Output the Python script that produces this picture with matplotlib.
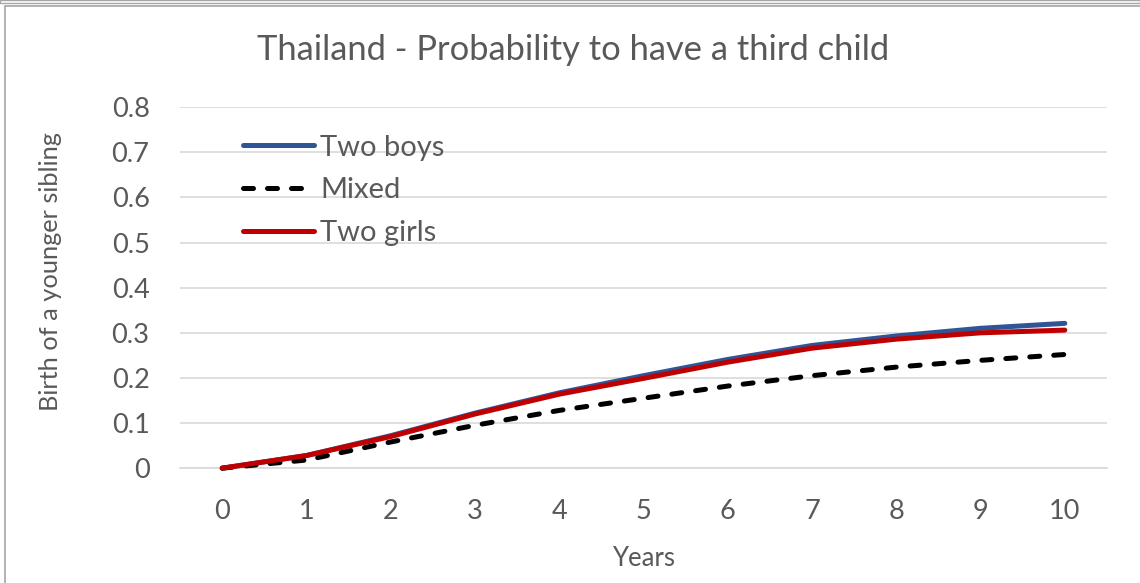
import matplotlib
matplotlib.use('Agg')
from matplotlib import pyplot as plt
from matplotlib.patches import Rectangle

# Вероятность рождения третьего ребёнка по годам
years = list(range(11))
two_boys = [0, 0.028, 0.072, 0.122, 0.167, 0.205, 0.241, 0.272, 0.293, 0.310, 0.321]
mixed = [0, 0.018, 0.058, 0.095, 0.128, 0.155, 0.182, 0.205, 0.224, 0.239, 0.252]
two_girls = [0, 0.028, 0.070, 0.120, 0.164, 0.199, 0.235, 0.266, 0.286, 0.300, 0.306]
y_ticks = [0, 0.1, 0.2, 0.3, 0.4, 0.5, 0.6, 0.7, 0.8]
y_tick_labels = ['0', '0.1', '0.2', '0.3', '0.4', '0.5', '0.6', '0.7', '0.8']

text_color = '#595959'
plt.rcParams['font.family'] = ['Lato', 'DejaVu Sans']

fig = plt.figure(figsize=(11.4, 5.83), dpi=100)
ax = fig.add_axes([0.158, 0.197, 0.813, 0.619])

ax.plot(years, two_boys, c='#2f5597', lw=3.6, solid_capstyle='round',
        label='Two boys', clip_on=False, zorder=3)
ax.plot(years, mixed, c='black', lw=3.6, ls=(0, (2.0, 2.8)), dash_capstyle='round',
        label='Mixed', clip_on=False, zorder=3)
ax.plot(years, two_girls, c='#c00000', lw=3.6, solid_capstyle='round',
        label='Two girls', clip_on=False, zorder=4)

# Оформление осей
ax.set_xlim(-0.5, 10.5)
ax.set_ylim(0, 0.8)
ax.set_xticks(years)
ax.set_yticks(y_ticks)
ax.set_yticklabels(y_tick_labels)
ax.grid(axis='y', color='#d9d9d9', lw=1.2)
ax.set_axisbelow(True)
for side in ['top', 'right', 'left']:
    ax.spines[side].set_visible(False)
ax.spines['bottom'].set_color('#d9d9d9')
ax.spines['bottom'].set_linewidth(1.2)
ax.tick_params(axis='both', length=0, labelsize=19.5, colors=text_color)
ax.tick_params(axis='y', pad=22)
ax.tick_params(axis='x', pad=22)

fig.text(0.503, 0.914, 'Thailand - Probability to have a third child', fontsize=24.8,
         color=text_color, ha='center', va='center')
ax.set_xlabel('Years', fontsize=18.5, color=text_color, labelpad=16)
ax.set_ylabel('Birth of a younger sibling', fontsize=18.3, color=text_color)
ax.yaxis.set_label_coords(-0.127, 0.546)

ax.legend(loc='upper left', bbox_to_anchor=(0.038, 1.0), frameon=False,
          fontsize=21, labelcolor=text_color, handlelength=2.45, handletextpad=0.2,
          labelspacing=0.57, borderaxespad=0.54)

# Рамка вокруг диаграммы
fig.patches.append(Rectangle((0.004, -0.01), 1.0, 1.0 - 0.0103 + 0.01,
                             transform=fig.transFigure, fill=False,
                             edgecolor='#a6a6a6', lw=1.2))
fig.patches.append(Rectangle((0.0, 0.995), 1.0, 0.005, transform=fig.transFigure,
                             fill=False, edgecolor='#a6a6a6', lw=1.0))

fig.savefig('out.png', dpi=100)
